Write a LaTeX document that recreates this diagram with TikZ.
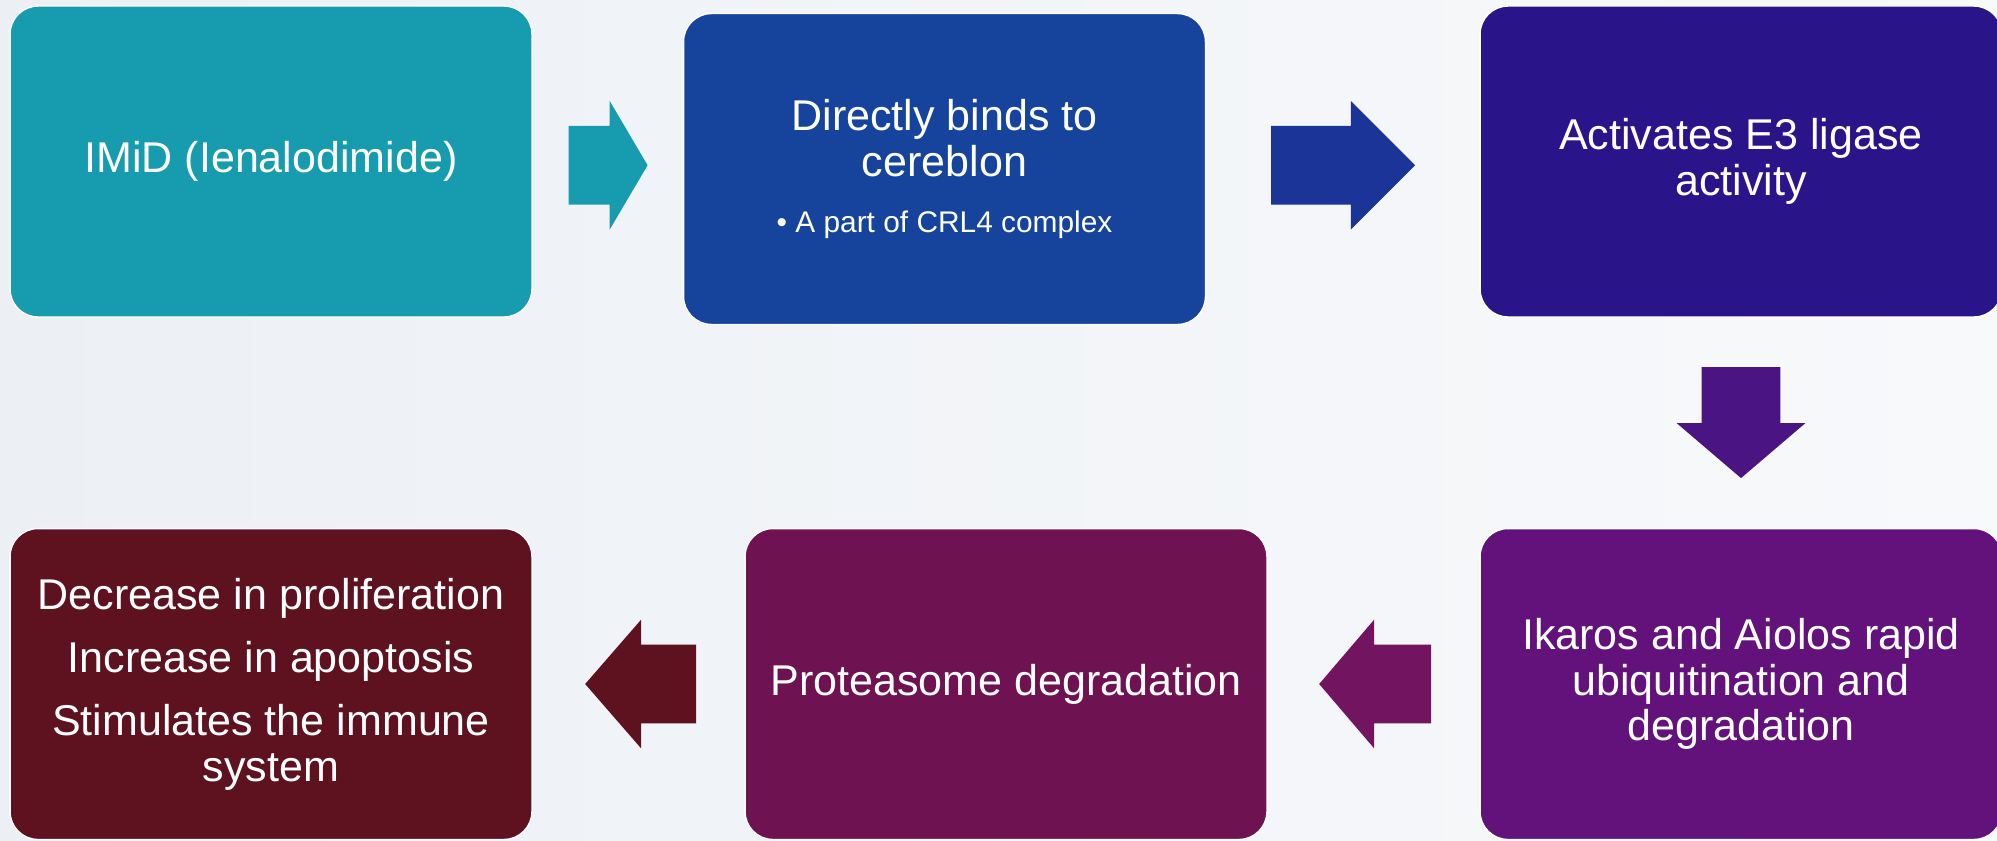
\documentclass[tikz,border=0pt]{standalone}
\usepackage{fontspec}
\setmainfont{Liberation Sans}
\usetikzlibrary{shapes.arrows,calc}

\definecolor{bgleft}{RGB}{236,240,245}
\definecolor{bgright}{RGB}{248,249,251}
\definecolor{imidteal}{RGB}{22,156,174}
\definecolor{bindsblue}{RGB}{22,68,156}
\definecolor{arrowblue}{RGB}{26,52,152}
\definecolor{activindigo}{RGB}{42,20,138}
\definecolor{arrowviolet}{RGB}{74,21,130}
\definecolor{ikarospurple}{RGB}{98,18,122}
\definecolor{arrowplum}{RGB}{114,20,96}
\definecolor{protplum}{RGB}{110,18,82}
\definecolor{arrowmaroon}{RGB}{94,18,32}
\definecolor{effectmaroon}{RGB}{94,18,31}

\tikzset{
  stepbox/.style={rounded corners=0.56cm, draw=white, line width=0.8pt,
    text=white, align=center, minimum width=10.44cm, minimum height=6.22cm,
    font=\fontsize{24.5}{26}\selectfont},
  blockarrow/.style={single arrow, inner xsep=0pt, inner ysep=0.78cm,
    single arrow head extend=0.5cm, anchor=tail},
}

\begin{document}
\begin{tikzpicture}[x=0.02cm,y=-0.02cm]

        \useasboundingbox (0,0) rectangle (1997,840);
        \shade[left color=bgleft, right color=bgright] (0,0) rectangle (1997,840);

        % top row
        \node[stepbox, fill=imidteal]    (imid)  at (271,161.5)  {IMiD (Ienalodimide)};
        \node[stepbox, fill=bindsblue]   (binds) at (944.5,169)  {Directly binds to\\cereblon\\[6pt]{\fontsize{17}{20}\selectfont\textbullet\ A part of CRL4 complex}};
        \node[stepbox, fill=activindigo] (activ) at (1741,161.5) {Activates E3 ligase\\activity};

        % bottom row
        \node[stepbox, fill=ikarospurple] (ikaros) at (1741,684) {Ikaros and Aiolos rapid\\ubiquitination and\\degradation};
        \node[stepbox, fill=protplum]     (prot)   at (1006,684) {Proteasome degradation};
        \node[stepbox, fill=effectmaroon] (effect) at (271,684)  {Decrease in proliferation\\[10pt]Increase in apoptosis\\[10pt]Stimulates the immune\\system};

        % block arrows, tail placed half a length before the gap's middle
        \node[blockarrow, fill=imidteal, minimum height=1.58cm, single arrow tip angle=119]
          (a1) at ($(imid.east)!0.5!(binds.west)+(-39.5,0)$) {};
        \node[blockarrow, fill=arrowblue, minimum height=2.88cm, single arrow tip angle=90]
          (a2) at ($(binds.east)!0.5!(activ.west)+(-72,0)$) {};
        \node[blockarrow, fill=arrowviolet, minimum height=2.22cm, single arrow tip angle=99, rotate=-90]
          (a3) at ($(activ.south)!0.5!(ikaros.north)+(0,-56)$) {};
        \node[blockarrow, fill=arrowplum, minimum height=2.24cm, single arrow tip angle=99, shape border rotate=180]
          (a4) at ($(ikaros.west)!0.5!(prot.east)+(58,0)$) {};
        \node[blockarrow, fill=arrowmaroon, minimum height=2.22cm, single arrow tip angle=98, shape border rotate=180]
          (a5) at ($(prot.west)!0.5!(effect.east)+(58,0)$) {};

      \end{tikzpicture}
\end{document}
